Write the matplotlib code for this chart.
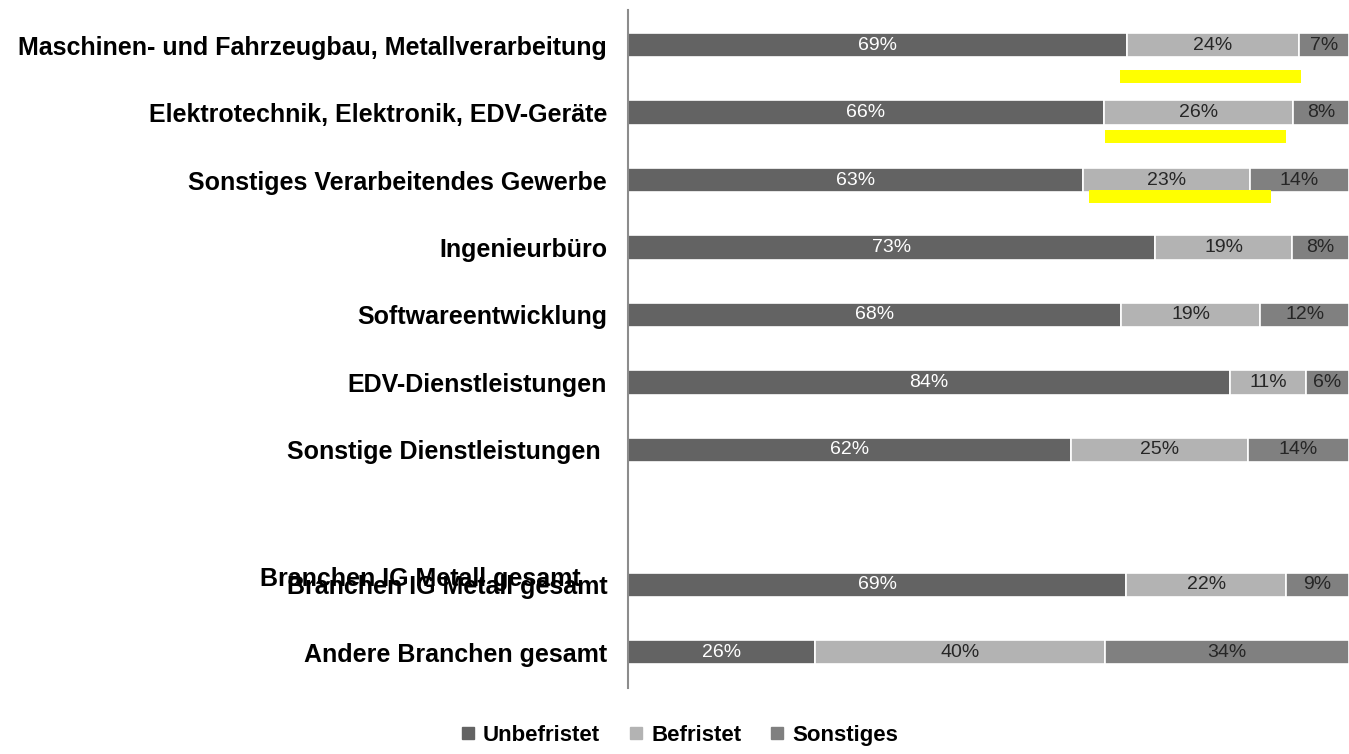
import numpy as np
from matplotlib import pyplot as plt
from matplotlib.lines import Line2D
from matplotlib.patches import Rectangle

plt.rcParams['font.family'] = ['Liberation Sans', 'DejaVu Sans']

# ---------------------------------------------------------------------------
# Data: share of contract types per industry (percent)
# ---------------------------------------------------------------------------
categories = [
    "Maschinen- und Fahrzeugbau, Metallverarbeitung",
    "Elektrotechnik, Elektronik, EDV-Geräte",
    "Sonstiges Verarbeitendes Gewerbe",
    "Ingenieurbüro",
    "Softwareentwicklung",
    "EDV-Dienstleistungen",
    "Sonstige Dienstleistungen ",
    "Branchen IG Metall gesamt",
    "Andere Branchen gesamt",
]
# slot 7 stays empty (gap before the two totals)
positions = [0, 1, 2, 3, 4, 5, 6, 8, 9]

unbefristet = [69.2, 66.0, 63.1, 73.1, 68.4, 83.5, 61.5, 69.1, 25.9]
befristet = [23.9, 26.2, 23.2, 19.0, 19.3, 10.5, 24.5, 22.2, 40.2]
sonstiges = [6.9, 7.8, 13.7, 7.9, 12.3, 6.0, 14.0, 8.7, 33.9]

series_names = ["Unbefristet", "Befristet", "Sonstiges"]
series_colors = ["#636363", "#b3b3b3", "#808080"]
label_colors = ["#ffffff", "#262626", "#262626"]

# yellow marker strokes under the "Befristet" segments: (row, x start, y offset)
highlights = [(0, 68.2, 0.47), (1, 66.1, 0.36), (2, 64.0, 0.25)]
highlight_width = 25.2


def _pct(v):
    # Excel-style half-up rounding for the segment labels
    return f"{int(v + 0.5)}%"


fig = plt.figure(figsize=(13.49, 7.54), dpi=100)
ax = fig.add_axes([0.4655, 0.0875, 0.5345, 0.8992])

y = np.array(positions, dtype=float)
left = np.zeros(len(y))
for vals, color, tcolor in zip([unbefristet, befristet, sonstiges],
                               series_colors, label_colors):
    vals = np.array(vals)
    bars = ax.barh(y, vals, left=left, height=0.36, color=color,
                   edgecolor='white', linewidth=1.2)
    for b, v in zip(bars, vals):
        ax.text(b.get_x() + b.get_width() / 2, b.get_y() + b.get_height() / 2,
                _pct(v), ha='center', va='center', fontsize=14, color=tcolor)
    left += vals

for row, x0, dy in highlights:
    ax.add_patch(Rectangle((x0, positions[row] + dy - 0.095), highlight_width,
                           0.19, color='#ffff00', lw=0, zorder=3))

ax.set_xlim(0, 100)
ax.set_ylim(9.53, -0.52)
ax.set_yticks(y)
ax.set_yticklabels(categories, fontsize=18, fontweight='bold')
ax.tick_params(axis='y', length=0, pad=15)
ax.set_xticks([])
for side in ('top', 'right', 'bottom'):
    ax.spines[side].set_visible(False)
ax.spines['left'].set_color('#8c8c8c')
ax.spines['left'].set_linewidth(1.5)

# the source shows this label printed twice, slightly shifted
ax.annotate(categories[7], xy=(0, positions[7]), xycoords=ax.get_yaxis_transform(),
            xytext=(-34, 4), textcoords='offset points', ha='right', va='center',
            fontsize=18, fontweight='bold', annotation_clip=False)

handles = [Line2D([], [], marker='s', ls='none', ms=8, color=c) for c in series_colors]
fig.legend(handles, series_names, loc='center', bbox_to_anchor=(0.503, 0.025),
           ncol=3, frameon=False, handletextpad=0.3, columnspacing=1.2,
           handlelength=0.8, prop={'size': 16, 'weight': 'bold'})

fig.savefig("out.png", dpi=100)
